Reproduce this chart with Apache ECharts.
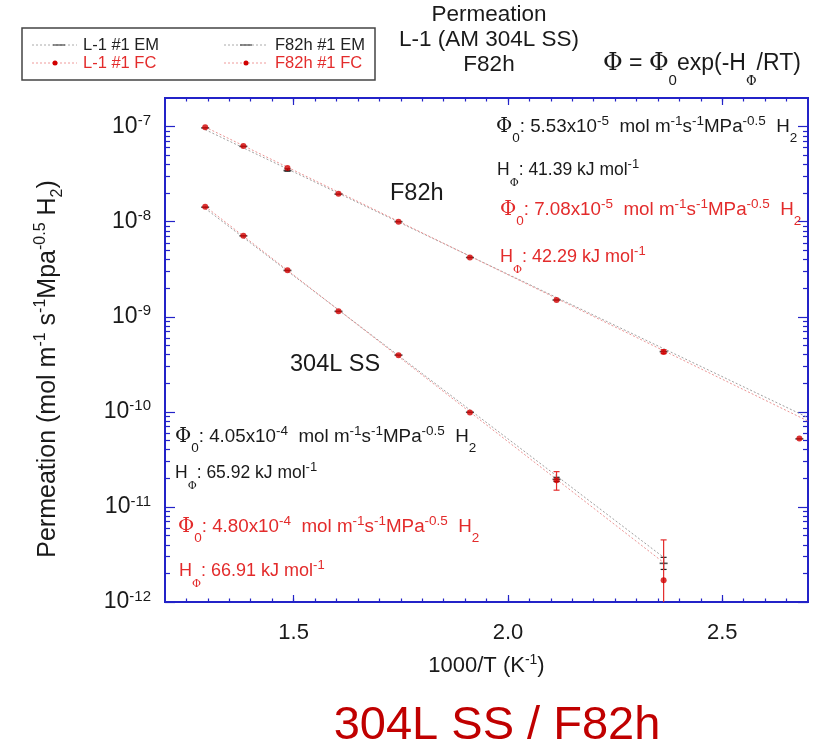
<!DOCTYPE html>
<html><head><meta charset="utf-8">
<script src="https://cdn.jsdelivr.net/npm/echarts@6/dist/echarts.min.js"></script>
<style>html,body{margin:0;padding:0;background:#fff}#c{width:828px;height:752px}</style>
</head><body><div id="c"></div>
<script>
// ---- data ----
const invT = [1.2937, 1.3828, 1.4857, 1.6047, 1.7447, 1.9113, 2.1134, 2.3632, 2.6799];
const f82hFC = [9.86e-8, 6.26e-8, 3.67e-8, 1.97e-8, 1.0e-8, 4.21e-9, 1.50e-9, 4.25e-10, 5.25e-11];
const f82hEM = [9.7e-8, 6.2e-8, 3.45e-8, 1.95e-8, 1.0e-8, 4.2e-9, 1.5e-9, 4.3e-10, 5.2e-11];
const l1FC = [1.44e-8, 7.13e-9, 3.08e-9, 1.14e-9, 3.95e-10, 9.86e-11, 1.91e-11, 1.69e-12];
const l1EM = [1.42e-8, 7.1e-9, 3.07e-9, 1.14e-9, 3.95e-10, 9.9e-11, 1.95e-11, 2.55e-12];
// error bars
const fcErrX = [2.1134, 2.3632, 2.3632];
const fcErrLow = [1.5e-11, 8e-13, 4.1e-10];
const fcErrHigh = [2.35e-11, 4.5e-12, 4.5e-10];
const emErrX = [1.4857, 2.1134, 2.3632];
const emErrLow = [3.4e-8, 1.85e-11, 2.2e-12];
const emErrHigh = [3.6e-8, 2.05e-11, 2.95e-12];
// fitted lines (end points)
const f82hFitX = [1.2937, 2.7];
const f82hFitFC = [9.9e-8, 8.0e-11];
const f82hFitEM = [9.3e-8, 8.7e-11];
const l1FitX = [1.2937, 2.3632];
const l1FitFC = [1.45e-8, 2.6e-12];
const l1FitEM = [1.38e-8, 2.95e-12];
// axes
const xTickLabels = [1.5, 2.0, 2.5];
const yTickExponents = [-12, -11, -10, -9, -8, -7];
const xMin = 1.2, xMax = 2.7, yMin = 1e-12, yMax = 2e-7;

// ---- helpers ----
const FONT = 'Liberation Sans, Arial, Helvetica, sans-serif';
const SERIF = 'DejaVu Serif, Liberation Serif, serif';
const BLUE = '#2323c8';
const RED = '#e32b2b';
const DOT = '#d10000';
const INK = '#1a1a1a';
const zip = (xs, ys) => xs.map((x, i) => [x, ys[i]]);
const zip3 = (xs, a, b) => xs.map((x, i) => [x, a[i], b[i]]);

const xMinor = [];
for (let v = 1.25; v < xMax - 1e-9; v += 0.05) xMinor.push(+v.toFixed(2));
const yMinorLog = [];
for (let e = -12; e <= -7; e++) for (let k = 2; k <= 9; k++) {
  const v = e + Math.log10(k);
  if (v < Math.log10(yMax) - 1e-6) yMinorLog.push(v);
}
const yMajorLog = yTickExponents.slice();

function mkRich(color, fs, ss, supOff, subOff) {
  const L = 2 * subOff + ss;
  const padTop = Math.max(0, L / 2 + supOff - ss / 2);
  return {
    m: {fill: color, fontSize: fs, fontFamily: FONT, lineHeight: L},
    p: {fill: color, fontSize: fs + 1, fontFamily: SERIF, lineHeight: L},
    sup: {fill: color, fontSize: ss, fontFamily: FONT, verticalAlign: 'top', padding: [padTop, 0, 0, 0]},
    sub: {fill: color, fontSize: ss, fontFamily: FONT, verticalAlign: 'bottom'},
    sp: {fill: color, fontSize: ss - 2, fontFamily: SERIF, verticalAlign: 'bottom'}
  };
}
function rtext(x, y, text, color, fs, ss, supOff, subOff, extra) {
  return Object.assign({
    type: 'text', z: 50,
    style: {x: x, y: y, text: text, verticalAlign: 'middle', align: 'left',
      rich: mkRich(color, fs, ss, supOff, subOff), fill: color, fontSize: fs, fontFamily: FONT}
  }, extra || {});
}
function ptext(x, y, text, color, fs, align) {
  return {type: 'text', z: 50, style: {x: x, y: y, text: text, fill: color, fontSize: fs,
    fontFamily: FONT, align: align || 'left', verticalAlign: 'middle'}};
}
const phi0Line = v => '{p|Φ}{sub|0}{m|: ' + v[0] + 'x10}{sup|' + v[1] + '}{m|  mol m}{sup|-1}{m|s}{sup|-1}{m|MPa}{sup|-0.5}{m|  H}{sub|2}';
const hLine = v => '{m|H}{sp|Φ}{m|: ' + v + ' kJ mol}{sup|-1}';

function errRender(color) {
  return function (params, api) {
    const x = api.value(0), lo = api.value(1), hi = api.value(2);
    const p1 = api.coord([x, lo]), p2 = api.coord([x, hi]);
    const w = 3, st = {stroke: color, lineWidth: 1.2};
    return {type: 'group', children: [
      {type: 'line', shape: {x1: p1[0], y1: p1[1], x2: p2[0], y2: p2[1]}, style: st},
      {type: 'line', shape: {x1: p1[0] - w, y1: p1[1], x2: p1[0] + w, y2: p1[1]}, style: st},
      {type: 'line', shape: {x1: p2[0] - w, y1: p2[1], x2: p2[0] + w, y2: p2[1]}, style: st}
    ]};
  };
}

const tickBase = (len, vals) => ({show: true, inside: true, length: len, customValues: vals,
  lineStyle: {color: BLUE, width: 1.2}});
const hiddenLine = {show: false, onZero: false};

const option = {
  animation: false,
  backgroundColor: '#fff',
  grid: {left: 165, top: 98, right: 20, bottom: 150, show: true, borderColor: BLUE, borderWidth: 2,
    backgroundColor: 'transparent'},
  xAxis: [
    {type: 'value', min: xMin, max: xMax, position: 'bottom', axisLine: hiddenLine, splitLine: {show: false},
      axisTick: tickBase(7, xTickLabels),
      axisLabel: {customValues: xTickLabels, margin: 20, fontSize: 22, fontFamily: FONT, color: INK,
        formatter: v => v.toFixed(1)},
      name: '{m|1000/T (K}{sup|-1}{m|)}', nameLocation: 'middle', nameGap: 49,
      nameTextStyle: {rich: {
        m: {fontSize: 22, fontFamily: FONT, color: INK, lineHeight: 30},
        sup: {fontSize: 14, fontFamily: FONT, color: INK, verticalAlign: 'top', padding: [2, 0, 0, 0]}}}},
    {type: 'value', min: xMin, max: xMax, position: 'bottom', axisLine: hiddenLine, splitLine: {show: false},
      axisTick: tickBase(3.5, xMinor), axisLabel: {show: false}},
    {type: 'value', min: xMin, max: xMax, position: 'top', axisLine: hiddenLine, splitLine: {show: false},
      axisTick: tickBase(7, xTickLabels), axisLabel: {show: false}},
    {type: 'value', min: xMin, max: xMax, position: 'top', axisLine: hiddenLine, splitLine: {show: false},
      axisTick: tickBase(3.5, xMinor), axisLabel: {show: false}}
  ],
  yAxis: [
    {type: 'log', logBase: 10, min: yMin, max: yMax, position: 'left', axisLine: hiddenLine,
      splitLine: {show: false}, axisTick: {show: false},
      axisLabel: {show: false}},
    {type: 'value', min: -12, max: Math.log10(yMax), position: 'left', axisLine: hiddenLine, splitLine: {show: false},
      axisTick: tickBase(10, yMajorLog),
      axisLabel: {customValues: yTickExponents, margin: 14, color: INK,
        formatter: v => '{b|10}{s|' + Math.round(v) + '}',
        rich: {b: {fontSize: 23, fontFamily: FONT, color: INK, lineHeight: 28},
               s: {fontSize: 15, fontFamily: FONT, color: INK, verticalAlign: 'top', padding: [1, 0, 0, 0]}}}},
    {type: 'value', min: -12, max: Math.log10(yMax), position: 'left', axisLine: hiddenLine, splitLine: {show: false},
      axisTick: tickBase(5, yMinorLog), axisLabel: {show: false}},
    {type: 'value', min: -12, max: Math.log10(yMax), position: 'right', axisLine: hiddenLine, splitLine: {show: false},
      axisTick: tickBase(10, yMajorLog), axisLabel: {show: false}},
    {type: 'value', min: -12, max: Math.log10(yMax), position: 'right', axisLine: hiddenLine, splitLine: {show: false},
      axisTick: tickBase(5, yMinorLog), axisLabel: {show: false}}
  ],
  series: [
    {name: 'F82h #1 EM fit', type: 'line', data: zip(f82hFitX, f82hFitEM), symbol: 'none', silent: true, z: 2,
      lineStyle: {color: '#a0a0a0', width: 1, type: [2, 2]}},
    {name: 'F82h #1 FC fit', type: 'line', data: zip(f82hFitX, f82hFitFC), symbol: 'none', silent: true, z: 2,
      lineStyle: {color: '#ec9494', width: 1, type: [2, 2]}},
    {name: 'L-1 #1 EM fit', type: 'line', data: zip(l1FitX, l1FitEM), symbol: 'none', silent: true, z: 2,
      lineStyle: {color: '#a0a0a0', width: 1, type: [2, 2]}},
    {name: 'L-1 #1 FC fit', type: 'line', data: zip(l1FitX, l1FitFC), symbol: 'none', silent: true, z: 2,
      lineStyle: {color: '#ec9494', width: 1, type: [2, 2]}},
    {name: 'EM err', type: 'custom', renderItem: errRender('#222'), data: zip3(emErrX, emErrLow, emErrHigh),
      encode: {x: 0, y: [1, 2]}, clip: true, z: 3, silent: true},
    {name: 'L-1 #1 EM', type: 'scatter', data: zip(invT, l1EM), symbol: 'rect', symbolSize: [8, 1.6],
      itemStyle: {color: '#222'}, z: 4},
    {name: 'F82h #1 EM', type: 'scatter', data: zip(invT, f82hEM), symbol: 'rect', symbolSize: [8, 1.6],
      itemStyle: {color: '#222'}, z: 4},
    {name: 'FC err', type: 'custom', renderItem: errRender(RED), data: zip3(fcErrX, fcErrLow, fcErrHigh),
      encode: {x: 0, y: [1, 2]}, clip: true, z: 5, silent: true},
    {name: 'L-1 #1 FC', type: 'scatter', data: zip(invT, l1FC), symbol: 'circle', symbolSize: 6,
      itemStyle: {color: DOT}, z: 6},
    {name: 'F82h #1 FC', type: 'scatter', data: zip(invT, f82hFC), symbol: 'circle', symbolSize: 6,
      itemStyle: {color: DOT}, z: 6}
  ],
  graphic: [
    // legend box
    {type: 'rect', z: 40, shape: {x: 22, y: 28, width: 353, height: 52}, style: {fill: '#fff', stroke: '#444', lineWidth: 1.5}},
    {type: 'line', z: 41, shape: {x1: 32, y1: 45, x2: 77, y2: 45}, style: {stroke: '#aaa', lineDash: [2, 2], lineWidth: 1}},
    {type: 'line', z: 42, shape: {x1: 53, y1: 45, x2: 65, y2: 45}, style: {stroke: '#444', lineWidth: 1.2}},
    ptext(83, 45, 'L-1 #1 EM', '#222', 16.5),
    {type: 'line', z: 41, shape: {x1: 224, y1: 45, x2: 268, y2: 45}, style: {stroke: '#aaa', lineDash: [2, 2], lineWidth: 1}},
    {type: 'line', z: 42, shape: {x1: 240, y1: 45, x2: 252, y2: 45}, style: {stroke: '#444', lineWidth: 1.2}},
    ptext(275, 45, 'F82h #1 EM', '#222', 16.5),
    {type: 'line', z: 41, shape: {x1: 32, y1: 63, x2: 77, y2: 63}, style: {stroke: '#ef9a9a', lineDash: [2, 2], lineWidth: 1}},
    {type: 'circle', z: 42, shape: {cx: 55, cy: 63, r: 2.5}, style: {fill: DOT}},
    ptext(83, 63, 'L-1 #1 FC', RED, 16.5),
    {type: 'line', z: 41, shape: {x1: 224, y1: 63, x2: 268, y2: 63}, style: {stroke: '#ef9a9a', lineDash: [2, 2], lineWidth: 1}},
    {type: 'circle', z: 42, shape: {cx: 246, cy: 63, r: 2.5}, style: {fill: DOT}},
    ptext(275, 63, 'F82h #1 FC', RED, 16.5),
    // titles
    ptext(489, 15, 'Permeation', INK, 22.5, 'center'),
    ptext(489, 40, 'L-1 (AM 304L SS)', INK, 22.5, 'center'),
    ptext(489, 65, 'F82h', INK, 22.5, 'center'),
    rtext(603, 64, '{p|Φ}{m| = }{p|Φ}{sub|0}{m|exp(-H}{sp|Φ}{m|/RT)}', INK, 23, 15, -5, 17),
    // y axis name (rotated)
    rtext(0, 0, '{m|Permeation (mol m}{sup|-1}{m| s}{sup|-1}{m|Mpa}{sup|-0.5}{m| H}{sub|2}{m|)}', INK, 25, 16, -7, 10,
      {rotation: Math.PI / 2, x: 48, y: 369}),
    // annotations
    rtext(496, 127, phi0Line(['5.53', '-5']), INK, 18.8, 13.5, -6, 12),
    rtext(497, 170, hLine('41.39'), INK, 17.5, 13, -6, 12),
    rtext(500, 210, phi0Line(['7.08', '-5']), RED, 18.8, 13.5, -6, 12),
    rtext(500, 257, hLine('42.29'), RED, 18, 13, -6, 12),
    ptext(390, 194, 'F82h', INK, 23.5),
    ptext(290, 365, '304L SS', INK, 23.5),
    rtext(175, 437, phi0Line(['4.05', '-4']), INK, 18.8, 13.5, -6, 12),
    rtext(175, 473, hLine('65.92'), INK, 17.5, 13, -6, 12),
    rtext(178, 527, phi0Line(['4.80', '-4']), RED, 18.8, 13.5, -6, 12),
    rtext(179, 571, hLine('66.91'), RED, 18, 13, -6, 12),
    // bottom caption
    ptext(497, 726, '304L SS / F82h', '#c00000', 47, 'center')
  ]
};
const yName = option.graphic.find(g => g.rotation);
yName.style.align = 'center';

const chart = echarts.init(document.getElementById('c'), null, {renderer: 'canvas'});
chart.setOption(option);
</script>
</body></html>
